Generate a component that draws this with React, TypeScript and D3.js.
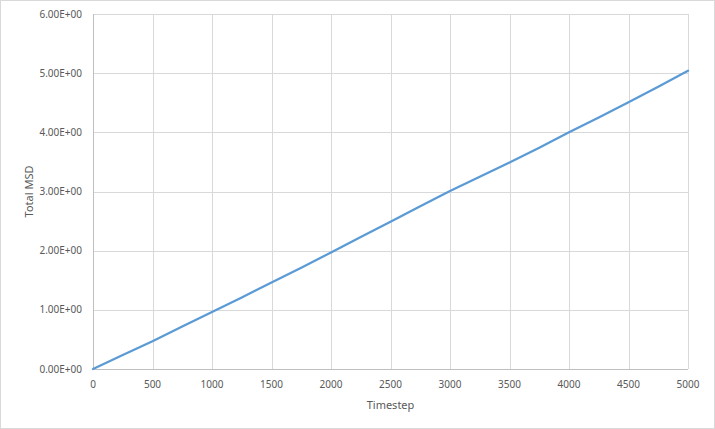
import React, { useRef, useEffect } from 'react';
import * as d3 from 'd3';

const timesteps = [0, 250, 500, 750, 1000, 1250, 1500, 1750, 2000, 2250, 2500, 2750, 3000, 3250, 3500, 3750, 4000, 4250, 4500, 4750, 5000];
const msdValues = [0, 0.235, 0.47, 0.72, 0.965, 1.21, 1.46, 1.71, 1.97, 2.23, 2.49, 2.75, 3.01, 3.25, 3.49, 3.74, 4.0, 4.25, 4.51, 4.77, 5.04];
const xTicks = [0, 500, 1000, 1500, 2000, 2500, 3000, 3500, 4000, 4500, 5000];
const yTicks = [0, 1, 2, 3, 4, 5, 6];

const WIDTH = 715;
const HEIGHT = 429;
const FONT = '"Noto Sans", "DejaVu Sans", sans-serif';

const MsdChart: React.FC = () => {
  const svgRef = useRef<SVGSVGElement | null>(null);

  useEffect(() => {
    if (!svgRef.current) return;
    const svg = d3.select(svgRef.current);
    svg.selectAll('*').remove();

    const margin = { top: 14, right: 27, bottom: 60, left: 93 };
    const x = d3.scaleLinear().domain([0, 5000]).range([margin.left, WIDTH - margin.right]);
    const y = d3.scaleLinear().domain([0, 6]).range([HEIGHT - margin.bottom, margin.top]);

    // chart frame
    svg.append('rect')
      .attr('x', 0.5).attr('y', 0.5)
      .attr('width', WIDTH - 1).attr('height', HEIGHT - 1)
      .attr('fill', '#fff')
      .attr('stroke', '#d9d9d9');

    // gridlines
    svg.append('g').selectAll('line.h')
      .data(yTicks.filter(d => d > 0))
      .enter().append('line')
      .attr('x1', x(0)).attr('x2', x(5000))
      .attr('y1', d => Math.round(y(d)) + 0.5).attr('y2', d => Math.round(y(d)) + 0.5)
      .attr('stroke', '#d9d9d9');

    svg.append('g').selectAll('line.v')
      .data(xTicks.filter(d => d > 0))
      .enter().append('line')
      .attr('x1', d => Math.round(x(d)) + 0.5).attr('x2', d => Math.round(x(d)) + 0.5)
      .attr('y1', y(6)).attr('y2', y(0))
      .attr('stroke', '#d9d9d9');

    // axis lines
    svg.append('line')
      .attr('x1', Math.round(x(0)) + 0.5).attr('x2', Math.round(x(0)) + 0.5)
      .attr('y1', y(6)).attr('y2', y(0))
      .attr('stroke', '#bfbfbf');
    svg.append('line')
      .attr('x1', x(0)).attr('x2', x(5000))
      .attr('y1', Math.round(y(0)) + 0.5).attr('y2', Math.round(y(0)) + 0.5)
      .attr('stroke', '#bfbfbf');

    // tick labels
    svg.append('g').selectAll('text')
      .data(yTicks)
      .enter().append('text')
      .attr('x', x(0) - 11)
      .attr('y', d => y(d))
      .attr('dy', '0.35em')
      .attr('text-anchor', 'end')
      .attr('font-family', FONT)
      .attr('font-size', 10)
      .attr('fill', '#595959')
      .text(d => `${d.toFixed(2)}E+00`);

    svg.append('g').selectAll('text')
      .data(xTicks)
      .enter().append('text')
      .attr('x', d => x(d))
      .attr('y', y(0) + 19)
      .attr('text-anchor', 'middle')
      .attr('font-family', FONT)
      .attr('font-size', 10)
      .attr('fill', '#595959')
      .text(d => d);

    // axis titles
    svg.append('text')
      .attr('transform', `translate(33, ${(y(0) + y(6)) / 2}) rotate(-90)`)
      .attr('text-anchor', 'middle')
      .attr('font-family', FONT)
      .attr('font-size', 11)
      .attr('fill', '#595959')
      .text('Total MSD');

    svg.append('text')
      .attr('x', (x(0) + x(5000)) / 2)
      .attr('y', 409)
      .attr('text-anchor', 'middle')
      .attr('font-family', FONT)
      .attr('font-size', 11)
      .attr('fill', '#595959')
      .text('Timestep');

    // series
    const line = d3.line<number>()
      .x((_, i) => x(timesteps[i]))
      .y(d => y(d));

    svg.append('path')
      .datum(msdValues)
      .attr('d', line)
      .attr('fill', 'none')
      .attr('stroke', '#5b9bd5')
      .attr('stroke-width', 2.25)
      .attr('stroke-linejoin', 'round')
      .attr('stroke-linecap', 'round');
  }, []);

  return <svg ref={svgRef} width={WIDTH} height={HEIGHT} style={{ display: 'block' }} />;
};

export default function App() {
  return (
    <div style={{ position: 'fixed', top: 0, left: 0, width: WIDTH, height: HEIGHT, background: '#fff' }}>
      <MsdChart />
    </div>
  );
}
